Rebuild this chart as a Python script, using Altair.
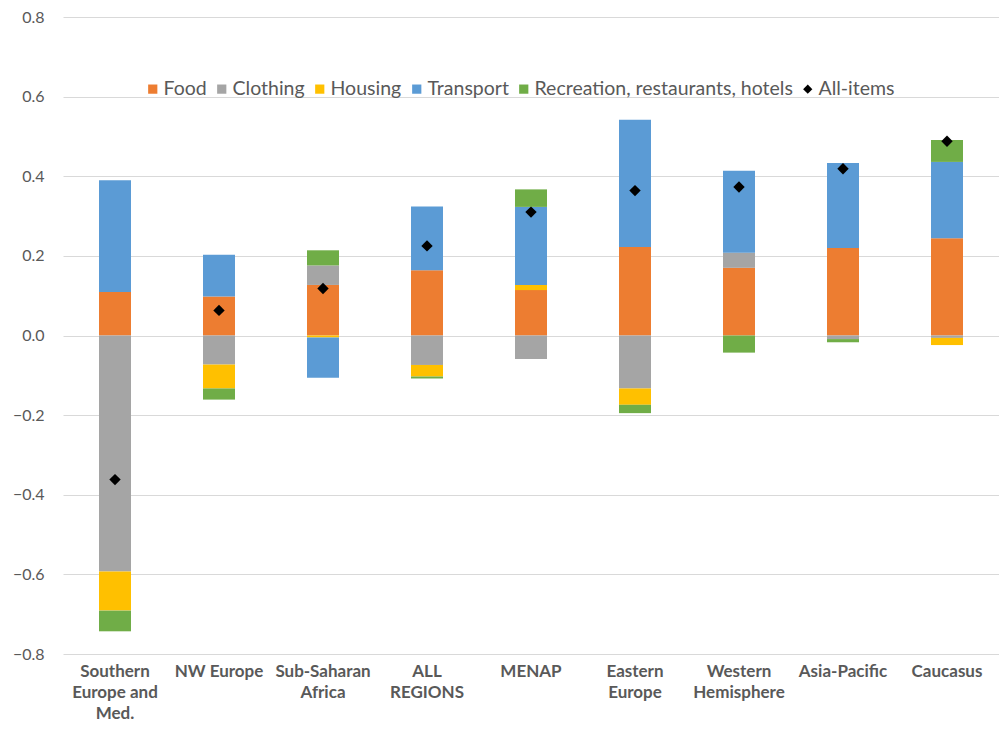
import json
import altair as alt
import pandas as pd

regions = ["Southern Europe and Med.", "NW Europe", "Sub-Saharan Africa", "ALL REGIONS",
           "MENAP", "Eastern Europe", "Western Hemisphere", "Asia-Pacific", "Caucasus"]
region_lines = [["Southern", "Europe and", "Med."], ["NW Europe"], ["Sub-Saharan", "Africa"],
                ["ALL", "REGIONS"], ["MENAP"], ["Eastern", "Europe"], ["Western", "Hemisphere"],
                ["Asia-Pacific"], ["Caucasus"]]

series = ["Food", "Clothing", "Housing", "Transport", "Recreation, restaurants, hotels"]
food = [0.109, 0.098, 0.127, 0.164, 0.114, 0.222, 0.170, 0.220, 0.244]
clothing = [-0.593, -0.073, 0.049, -0.074, -0.059, -0.133, 0.038, -0.009, -0.006]
housing = [-0.098, -0.060, -0.005, -0.029, 0.013, -0.041, 0.0, 0.0, -0.018]
transport = [0.281, 0.105, -0.101, 0.160, 0.196, 0.320, 0.206, 0.213, 0.192]
recreation = [-0.052, -0.028, 0.038, -0.005, 0.044, -0.021, -0.043, -0.008, 0.055]
all_items = [-0.362, 0.063, 0.118, 0.225, 0.310, 0.364, 0.373, 0.419, 0.488]

legend_items = series + ["All-items"]
colors = ["#ED7D31", "#A5A5A5", "#FFC000", "#5B9BD5", "#70AD47", "#000000"]
shapes = ["square", "square", "square", "square", "square", "diamond"]

rows = []
for s_i, (name, vals) in enumerate(zip(series, [food, clothing, housing, transport, recreation])):
    for r, v in zip(regions, vals):
        rows.append({"region": r, "series": name, "value": v, "idx": s_i})
bars_df = pd.DataFrame(rows)
pts_df = pd.DataFrame({"region": regions, "value": all_items, "series": "All-items"})

label_expr = ""
for r, lines in zip(regions, region_lines):
    label_expr += f"datum.value == {json.dumps(r)} ? {json.dumps(lines)} : "
label_expr += "datum.label"

FONT = "Lato"
GREY = "#595959"

x_enc = alt.X("region:N", sort=regions, title=None,
              scale=alt.Scale(paddingInner=0.0, paddingOuter=0.0),
              axis=alt.Axis(labelExpr=label_expr, labelAngle=0, domain=False, ticks=False,
                            grid=False, labelFont=FONT, labelFontSize=17, labelFontWeight="bold",
                            labelColor=GREY, labelPadding=9, labelLineHeight=21,
                            labelBaseline="top"))
y_scale = alt.Scale(domain=[-0.8, 0.8], nice=False)


def make_legend():
    return alt.Legend(title=None, orient="none", direction="horizontal",
                      columns=6, legendX=80, legendY=62,
                      labelFont=FONT, labelFontSize=19.5, labelColor=GREY,
                      labelLimit=400, symbolSize=85, columnPadding=5,
                      symbolStrokeWidth=0, labelOffset=1)


color_enc = alt.Color("series:N", scale=alt.Scale(domain=legend_items, range=colors),
                      legend=make_legend())
shape_enc = alt.Shape("series:N", scale=alt.Scale(domain=legend_items, range=shapes),
                      legend=make_legend())

bars = alt.Chart(bars_df).mark_bar(size=32).encode(
    x=x_enc,
    y=alt.Y("value:Q", stack="zero", scale=y_scale, title=None,
            axis=alt.Axis(values=[-0.8, -0.6, -0.4, -0.2, 0.0, 0.2, 0.4, 0.6, 0.8], format=".1f",
                          domain=False, ticks=False, grid=True, gridColor="#D9D9D9",
                          labelFont=FONT, labelFontSize=16, labelColor=GREY, labelPadding=19)),
    color=color_enc,
    order=alt.Order("idx:Q"),
)

points = alt.Chart(pts_df).mark_point(filled=True, size=130, opacity=1).encode(
    x=alt.X("region:N", sort=regions),
    y=alt.Y("value:Q", scale=y_scale),
    color=color_enc,
    shape=shape_enc,
)

chart = alt.layer(bars, points).properties(
    width=936, height=637,
    padding={"left": 63, "top": 17, "right": 0, "bottom": 78},
    autosize=alt.AutoSizeParams(type="none"),
    background="white",
).configure_view(stroke=None)

chart.save("out.html", embed_options={"renderer": "svg", "actions": False})
